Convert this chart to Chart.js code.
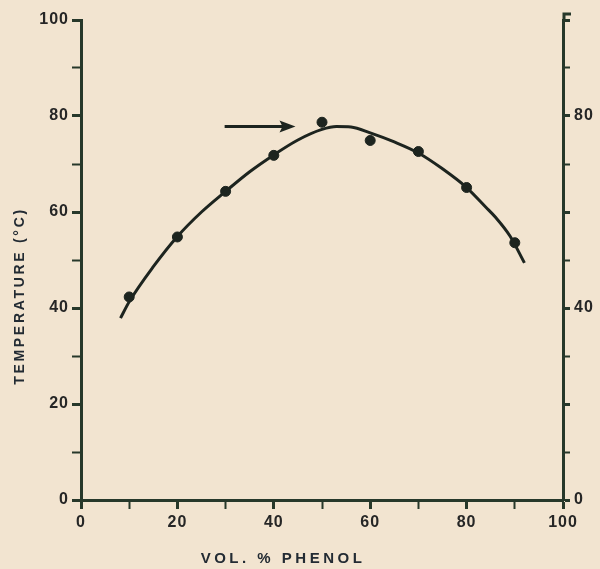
<!DOCTYPE html>
<html>
<head>
<meta charset="utf-8">
<script src="https://cdn.jsdelivr.net/npm/chart.js@4.4.1/dist/chart.umd.min.js"></script>
<style>
  html, body { margin: 0; padding: 0; background: #f2e4d0; }
  #wrap { width: 600px; height: 569px; }
</style>
</head>
<body>
<div id="wrap"><canvas id="chart" width="600" height="569"></canvas></div>
<script>
// measured points (vol. % phenol, temperature in C)
const phenolPct = [10, 20, 30, 40, 50, 60, 70, 80, 90];
const tempC = [42.3, 54.8, 64.3, 71.8, 78.7, 74.9, 72.6, 65.1, 53.6];

// hand-drawn fitted curve
const curveX = [8.2, 10, 15, 20, 25, 30, 35, 40, 45, 50, 53, 56, 60, 65, 70, 75, 80, 84, 86, 89, 92];
const curveY = [37.9, 41.3, 48.6, 54.9, 60.0, 64.3, 68.4, 71.9, 75.0, 77.2, 77.8, 77.7, 76.5, 74.6, 72.3, 69.0, 65.1, 61.0, 58.9, 55.0, 49.4];

// arrow pointing at the maximum
const arrowFrom = [29.8, 77.8];
const arrowTo = [44.5, 77.8];

const xTicks = [0, 20, 40, 60, 80, 100];
const yTicks = [0, 20, 40, 60, 80, 100];
const rightTicks = [0, 40, 80];

const ink = '#1d241f';
const axisInk = '#27382a';
const textInk = '#262626';

const bgPlugin = {
  id: 'paper',
  beforeLayout(chart) {
    chart.ctx.letterSpacing = '1px';
  },
  beforeDraw(chart) {
    const ctx = chart.ctx;
    ctx.save();
    ctx.fillStyle = '#f2e4d0';
    ctx.fillRect(0, 0, chart.width, chart.height);
    ctx.restore();
    ctx.letterSpacing = '1px';
  },
  afterDraw(chart) {
    const ctx = chart.ctx;
    const xs = chart.scales.x, ys = chart.scales.y;
    // arrow
    const x1 = xs.getPixelForValue(arrowFrom[0]), y1 = ys.getPixelForValue(arrowFrom[1]);
    const x2 = xs.getPixelForValue(arrowTo[0]), y2 = ys.getPixelForValue(arrowTo[1]);
    ctx.save();
    ctx.strokeStyle = ink;
    ctx.fillStyle = ink;
    ctx.lineWidth = 3;
    ctx.beginPath();
    ctx.moveTo(x1, y1);
    ctx.lineTo(x2 - 10, y2);
    ctx.stroke();
    ctx.beginPath();
    ctx.moveTo(x2, y2);
    ctx.lineTo(x2 - 16, y2 - 6);
    ctx.lineTo(x2 - 13, y2);
    ctx.lineTo(x2 - 16, y2 + 6);
    ctx.closePath();
    ctx.fill();

    // top end of the right axis
    const rx = chart.scales.y2.left;
    ctx.strokeStyle = axisInk;
    ctx.lineWidth = 3;
    ctx.beginPath();
    ctx.moveTo(rx + 1, chart.chartArea.top);
    ctx.lineTo(rx + 1, chart.chartArea.top - 6);
    ctx.lineTo(rx + 8, chart.chartArea.top - 6);
    ctx.stroke();

    // axis titles
    ctx.fillStyle = '#232b33';
    ctx.textAlign = 'center';
    ctx.textBaseline = 'middle';
    ctx.font = 'bold 15px "Liberation Sans", sans-serif';
    ctx.letterSpacing = '3.5px';
    ctx.fillText('VOL. % PHENOL', 283, 559);
    ctx.translate(20, 296);
    ctx.rotate(-Math.PI / 2);
    ctx.font = 'bold 14px "Liberation Sans", sans-serif';
    ctx.letterSpacing = '2.7px';
    ctx.fillText('TEMPERATURE (°C)', 0, 0);
    ctx.restore();
    ctx.letterSpacing = '1px';
  }
};

const tickFont = { family: '"Liberation Sans", sans-serif', size: 16, weight: 'bold' };

const axisBase = (labels) => ({
  type: 'linear',
  min: 0,
  max: 100,
  border: { display: true, color: axisInk, width: 3 },
  grid: {
    drawOnChartArea: false,
    drawTicks: true,
    tickLength: 9,
    color: axisInk,
    tickColor: axisInk,
    tickWidth: ctx => (ctx.tick && ctx.tick.value % 20 === 0 ? 3 : 2)
  },
  ticks: {
    stepSize: 10,
    autoSkip: false,
    maxRotation: 0,
    color: textInk,
    font: tickFont,
    callback: v => (labels.includes(v) ? String(v) : '')
  }
});

const xAxis = axisBase(xTicks);
xAxis.position = 'bottom';
xAxis.ticks.padding = 4;
xAxis.afterFit = s => { s.height = 69; };

const yAxis = axisBase(yTicks);
yAxis.position = 'left';
yAxis.ticks.padding = 3;
yAxis.afterFit = s => { s.width = 81; };

const y2Axis = axisBase(rightTicks);
y2Axis.position = 'right';
y2Axis.grid.tickLength = 7;
y2Axis.ticks.padding = 4;
y2Axis.afterFit = s => { s.width = 37; };

new Chart(document.getElementById('chart'), {
  type: 'scatter',
  data: {
    datasets: [
      {
        label: 'fitted curve',
        type: 'line',
        data: curveX.map((x, i) => ({ x, y: curveY[i] })),
        borderColor: ink,
        borderWidth: 3,
        pointRadius: 0,
        cubicInterpolationMode: 'monotone',
        fill: false
      },
      {
        label: 'measured',
        data: phenolPct.map((x, i) => ({ x, y: tempC[i] })),
        backgroundColor: ink,
        borderColor: ink,
        pointRadius: 5,
        showLine: false,
        yAxisID: 'y'
      }
    ]
  },
  options: {
    responsive: false,
    animation: false,
    layout: { padding: { top: 20, left: 0, right: 0, bottom: 0 } },
    plugins: { legend: { display: false }, tooltip: { enabled: false } },
    scales: { x: xAxis, y: yAxis, y2: y2Axis }
  },
  plugins: [bgPlugin]
});
</script>
</body>
</html>
